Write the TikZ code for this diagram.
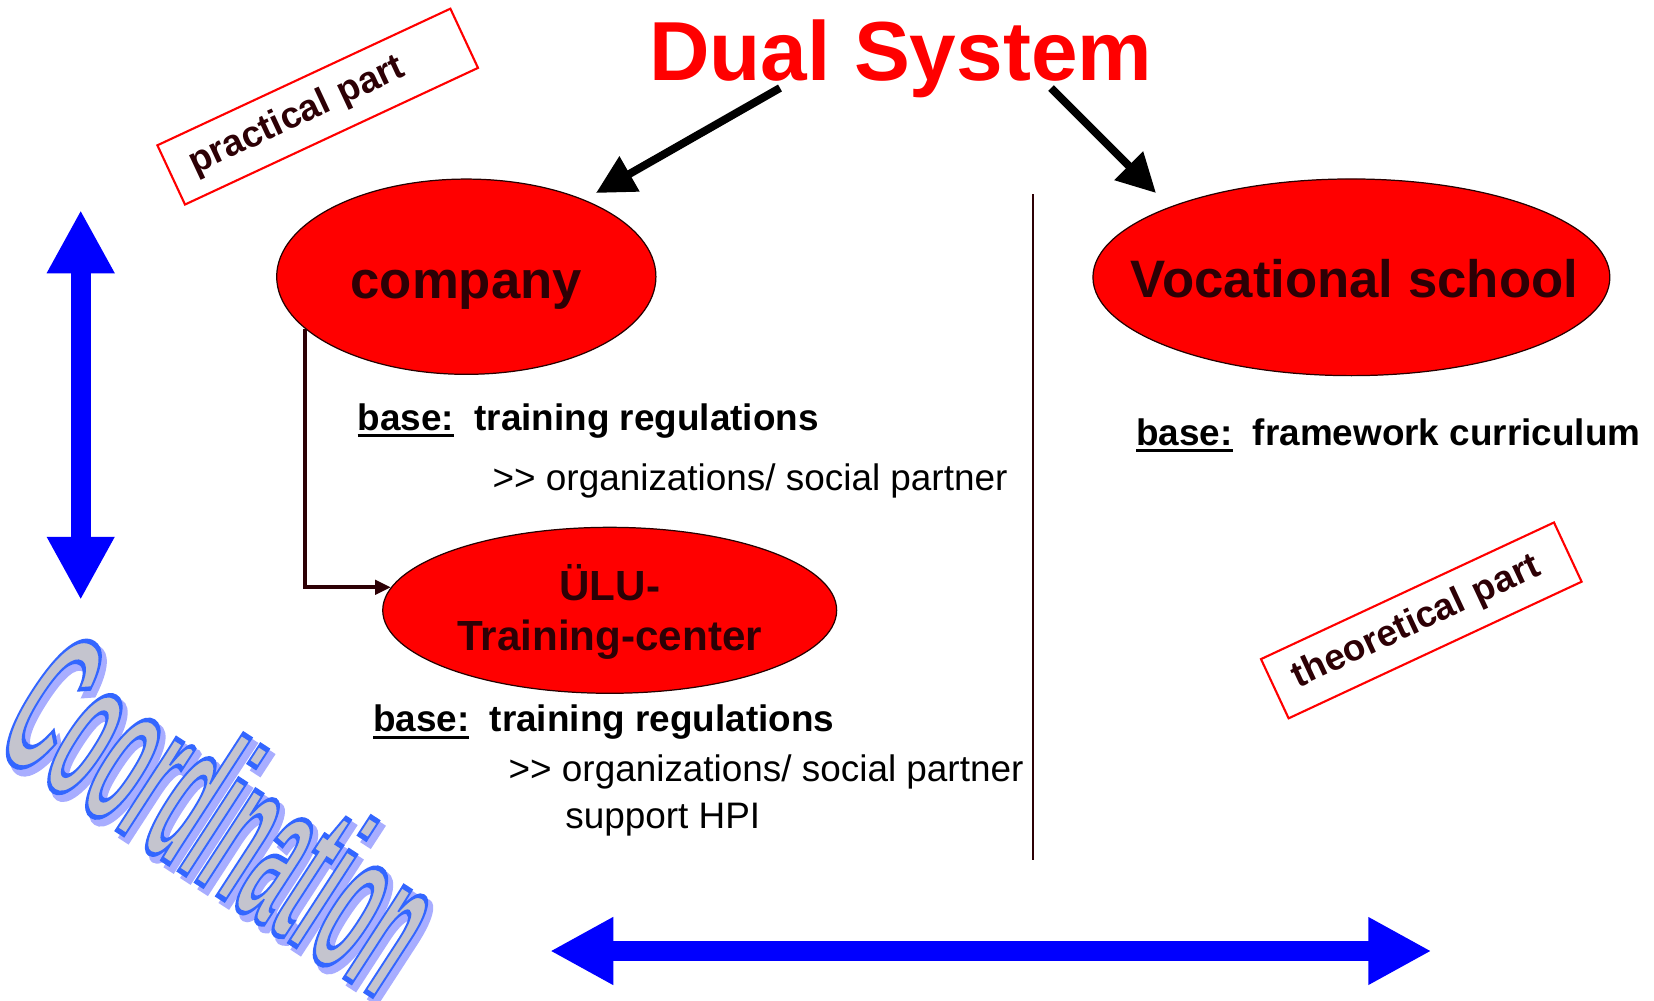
\documentclass[tikz,border=0pt]{standalone}
\usepackage{fontspec}
\setmainfont{Liberation Sans}
\usepackage{graphicx}
\usetikzlibrary{arrows.meta,shapes.geometric}
\definecolor{maroonD}{RGB}{45,0,5}
\definecolor{wablue}{RGB}{51,102,255}
\definecolor{wagray}{RGB}{196,196,206}
\definecolor{washadow}{RGB}{168,174,255}
\newsavebox\ulbox
\newcommand\myul[1]{\sbox\ulbox{#1}\rlap{\rule[-4.2pt]{\wd\ulbox}{1.9pt}}\usebox\ulbox}
% outlined text: fill with current colour, stroke with given RGB and width
\newcommand\outltext[2]{\special{pdf:literal direct #1 2 Tr}#2\special{pdf:literal direct 0 Tr}}
\tikzset{
  ell/.style={ellipse, draw=black!85!red, line width=0.7pt, fill=red, inner sep=0pt},
  eltext/.style={anchor=base, inner sep=0pt, font=\fontsize{30}{36}\selectfont\bfseries, text=maroonD},
  ptext/.style={anchor=base west, inner sep=0pt, font=\fontsize{21}{26}\selectfont},
  partbox/.style={draw=red, line width=1.2pt, rotate=25, minimum height=37.2pt,
    text width=159pt, inner xsep=12.5pt, inner ysep=0pt, align=left,
    font=\fontsize{21}{26}\selectfont\bfseries, text=maroonD},
  blackarrow/.style={line width=4.5pt, -{Triangle[length=22pt,width=22pt]}},
  bluearrow/.style={blue, line width=11.5pt,
    {Triangle[length=36pt,width=36pt]}-{Triangle[length=36pt,width=36pt]}},
  thinline/.style={maroonD, line width=1.1pt},
  elbow/.style={maroonD, line width=2.2pt, -{Triangle[length=9pt,width=8pt]}},
  wordart/.style={rotate=-33, inner sep=0pt, font=\fontsize{117}{126}\selectfont\bfseries}
}
\begin{document}
\begin{tikzpicture}[x=0.02cm, y=-0.02cm]
\useasboundingbox (0,0) rectangle (1654,1001);

% title
\node[anchor=base, inner sep=0pt, font=\fontsize{47.7}{56}\selectfont\bfseries, text=red] (title) at (900.7,80) {Dual System};

% ellipses
\node[ell, minimum width=7.586cm, minimum height=3.906cm] (company) at (466.3,276.7) {};
\node[eltext] (companytext) at (466.3,298.3) {company};
\node[ell, minimum width=10.34cm, minimum height=3.934cm] (school) at (1351.4,277.3) {};
\node[eltext] (schooltext) at (1354.5,297.3) {Vocational school};
\node[ell, minimum width=9.08cm, minimum height=3.32cm] (ulu) at (609.7,610.3) {};
\node[anchor=base, inner sep=0pt, font=\fontsize{24}{29}\selectfont\bfseries, text=maroonD] (ulu1) at (609.7,600) {ÜLU-};
\node[anchor=base, inner sep=0pt, font=\fontsize{24}{29}\selectfont\bfseries, text=maroonD] (ulu2) at (609.7,650.7) {Training-center};

% arrows from title
\coordinate (la) at (780,88);
\coordinate (lb) at (596,193);
\coordinate (ra) at (1051,88);
\coordinate (rb) at (1156,193);
\draw[blackarrow] (la) -- (lb);
\draw[blackarrow] (ra) -- (rb);

% elbow connector company -> ULU
\draw[elbow] (company.198) |- (ulu.174);

% divider
\coordinate (dtop) at (1033,194);
\coordinate (dbot) at (1033,860);
\draw[thinline] (dtop) -- (dbot);

% texts
\node[ptext] (base1) at (357.3,430) {\bfseries\myul{base:}\hspace{11.6pt}training regulations};
\node[ptext] (org1) at (492.3,490) {>{}> organizations/ social partner};
\node[ptext] (base2) at (372.7,731.7) {\bfseries\myul{base:}\hspace{11.6pt}training regulations};
\node[ptext] (org2) at (508.3,781.7) {>{}> organizations/ social partner};
\node[ptext] (hpi) at (565,828.3) {support HPI};
\node[ptext] (base3) at (1135.8,445) {\bfseries\myul{base:}\hspace{11.6pt}framework curriculum};

% rotated boxes
\node[partbox] (practical) at (317.7,106.6) {practical part};
\node[partbox] (theoretical) at (1421.3,620.4) {theoretical part};

% blue double arrows
\coordinate (vt) at (80.7,210);
\coordinate (vb) at (80.7,600);
\draw[bluearrow] (vt) -- (vb);
\coordinate (hl) at (550,951);
\coordinate (hr) at (1431.5,951);
\draw[bluearrow] (hl) -- (hr);

% Coordination word art
\node[wordart, text=washadow] (coordshadow) at (229,818) {\outltext{0.66 0.68 1 RG 4 w}{\scalebox{0.36}[1]{Coordination}}};
\node[wordart, text=wagray] (coord) at (224.5,812) {\outltext{0.2 0.4 1 RG 3 w}{\scalebox{0.36}[1]{Coordination}}};
\end{tikzpicture}
\end{document}
